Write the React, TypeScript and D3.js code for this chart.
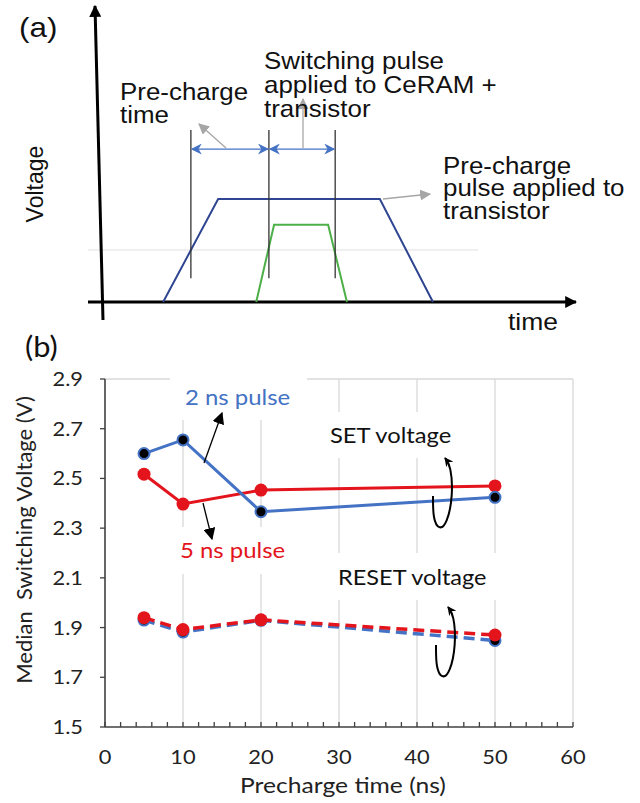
import React from "react";
import * as d3 from "d3";

// ---------- Panel (b) data ----------
const precharge = [5, 10, 20, 50];
const set2ns = [2.6, 2.655, 2.366, 2.424];
const set5ns = [2.517, 2.397, 2.453, 2.47];
const reset2ns = [1.93, 1.882, 1.929, 1.848];
const reset5ns = [1.94, 1.892, 1.931, 1.87];
const xTicks = [0, 10, 20, 30, 40, 50, 60];
const yTicks = [1.5, 1.7, 1.9, 2.1, 2.3, 2.5, 2.7, 2.9];
const gridX = [10, 20, 30, 40, 50];

// ---------- Panel (a) schematic data (abstract units) ----------
const precharge_t = [12.8, 24.5, 58.9, 70.2];
const precharge_v = [0, 10, 10, 0];
const switch_t = [32.6, 36.4, 47.9, 51.9];
const switch_v = [0, 7.5, 7.5, 0];
const markerT = [18.7, 35.3, 49.4];

const BLUE = "#4472c4";
const RED = "#e3141c";
const NAVY = "#2f4591";
const GREEN = "#4caf47";
const GRID = "#d9d9d9";
const fontA = "'Liberation Sans', Arial, sans-serif";
const fontB = "Lato, 'Open Sans', sans-serif";

type STProps = {
  x: number;
  y: number;
  sx?: number;
  size: number;
  family: string;
  fill?: string;
  anchor?: string;
  lines: string[];
  lh?: number;
};
function ST({ x, y, sx = 1.1, size, family, fill = "#111", anchor = "start", lines, lh = 0 }: STProps) {
  return (
    <text
      transform={`translate(${x},${y}) scale(${sx},1)`}
      fontFamily={family}
      fontSize={size}
      fill={fill}
      textAnchor={anchor}
      style={{ whiteSpace: "pre" }}
    >
      {lines.map((l, i) => (
        <tspan key={i} x={0} y={i * lh}>
          {l}
        </tspan>
      ))}
    </text>
  );
}

export default function App() {
  // panel a scales
  const xA = d3.scaleLinear().domain([0, 100]).range([103, 573]);
  const yA = d3.scaleLinear().domain([0, 10]).range([302, 199]);
  const lineA = d3
    .line<[number, number]>()
    .x((d) => xA(d[0]))
    .y((d) => yA(d[1]));

  // panel b scales
  const x = d3.scaleLinear().domain([0, 60]).range([105, 573]);
  const y = d3.scaleLinear().domain([1.5, 2.9]).range([727, 379]);
  const line = d3
    .line<[number, number]>()
    .x((d) => x(d[0]))
    .y((d) => y(d[1]));
  const pts = (vals: number[]) => precharge.map((p, i) => [p, vals[i]] as [number, number]);
  const minor = d3.range(0, 61, 2);

  const loop = d3.line<[number, number]>().curve(d3.curveBasis);

  const loopPath = (cx: number, cy: number) =>
    loop([
      [cx - 10, cy + 2],
      [cx - 10, cy + 25],
      [cx - 4, cy + 36],
      [cx + 4, cy + 30],
      [cx + 10, cy + 2],
      [cx + 8, cy - 28],
      [cx + 2, cy - 36],
    ]);

  return (
    <svg width={640} height={803} style={{ position: "absolute", left: 0, top: 0 }}>
      <defs>
        <marker id="ahBig" viewBox="0 0 10 10" refX="9" refY="5" markerWidth="12" markerHeight="12" orient="auto" markerUnits="userSpaceOnUse">
          <path d="M0,0 L10,5 L0,10 z" fill="#000" />
        </marker>
        <marker id="ahGray" viewBox="0 0 10 10" refX="9" refY="5" markerWidth="11" markerHeight="11" orient="auto" markerUnits="userSpaceOnUse">
          <path d="M0,0 L10,5 L0,10 z" fill="#a6a6a6" />
        </marker>
        <marker id="ahBlue" viewBox="0 0 10 10" refX="9" refY="5" markerWidth="11" markerHeight="11" orient="auto-start-reverse" markerUnits="userSpaceOnUse">
          <path d="M0,0 L10,5 L0,10 L3,5 z" fill={BLUE} />
        </marker>
        <marker id="ahCurve" viewBox="0 0 10 10" refX="9" refY="5" markerWidth="9" markerHeight="9" orient="auto" markerUnits="userSpaceOnUse">
          <path d="M0,0 L10,5 L0,10 L3,5 z" fill="#000" />
        </marker>
      </defs>
      <rect width={640} height={803} fill="#fff" />

      {/* ================= Panel (a) ================= */}
      <ST x={19} y={37} size={28} family={fontA} lines={["(a)"]} sx={1.12} />
      {/* faint reference line */}
      <line x1={88} x2={478} y1={yA(5.05)} y2={yA(5.05)} stroke="#e0e0e0" strokeWidth={1} />
      {/* axes */}
      <line x1={103} y1={320} x2={95} y2={6} stroke="#000" strokeWidth={3} markerEnd="url(#ahBig)" />
      <line x1={88} y1={302} x2={576} y2={302} stroke="#000" strokeWidth={3} markerEnd="url(#ahBig)" />
      <text transform="translate(43,184) rotate(-90)" textAnchor="middle" fontFamily={fontA} fontSize={23} fill="#111">Voltage</text>
      <ST x={508} y={330} size={23} family={fontA} lines={["time"]} sx={1.15} />

      {/* pulses */}
      <path d={lineA(precharge_t.map((t, i) => [t, precharge_v[i]]))!} fill="none" stroke={NAVY} strokeWidth={2} />
      <path d={lineA(switch_t.map((t, i) => [t, switch_v[i]]))!} fill="none" stroke={GREEN} strokeWidth={2} />

      {/* vertical markers */}
      {markerT.map((t) => (
        <line key={t} x1={xA(t)} x2={xA(t)} y1={yA(16.7)} y2={yA(2.3)} stroke="#333" strokeWidth={1.3} />
      ))}
      {/* blue double arrows */}
      <line x1={xA(markerT[0]) + 1} x2={xA(markerT[1]) - 1} y1={yA(14.85)} y2={yA(14.85)} stroke={BLUE} strokeWidth={1.3} markerStart="url(#ahBlue)" markerEnd="url(#ahBlue)" />
      <line x1={xA(markerT[1]) + 1} x2={xA(markerT[2]) - 1} y1={yA(14.85)} y2={yA(14.85)} stroke={BLUE} strokeWidth={1.3} markerStart="url(#ahBlue)" markerEnd="url(#ahBlue)" />

      {/* gray arrows */}
      <line x1={226} y1={148} x2={199} y2={124} stroke="#a6a6a6" strokeWidth={1.3} markerEnd="url(#ahGray)" />
      <line x1={303} y1={148} x2={303} y2={99} stroke="#a6a6a6" strokeWidth={1.3} markerEnd="url(#ahGray)" />
      <line x1={383} y1={199} x2={430} y2={194} stroke="#a6a6a6" strokeWidth={1.3} markerEnd="url(#ahGray)" />

      {/* labels */}
      <ST x={120} y={100} size={24} family={fontA} sx={1.08} lh={23} lines={["Pre-charge", "time"]} />
      <ST x={264} y={69} size={24} family={fontA} sx={1.08} lh={24} lines={["Switching pulse", "applied to CeRAM +", "transistor"]} />
      <ST x={443} y={174} size={24} family={fontA} sx={1.08} lh={22.5} lines={["Pre-charge", "pulse applied to", "transistor"]} />

      {/* ================= Panel (b) ================= */}
      <ST x={25} y={357} size={28} family={fontB} sx={1.1} lines={["(b)"]} />

      {/* gridlines & border */}
      {gridX.map((g) => (
        <line key={g} x1={x(g)} x2={x(g)} y1={y(2.9)} y2={y(1.5)} stroke={GRID} strokeWidth={1.3} />
      ))}
      <line x1={x(0)} x2={x(60)} y1={y(2.9)} y2={y(2.9)} stroke={GRID} strokeWidth={1.3} />
      <line x1={x(60)} x2={x(60)} y1={y(2.9)} y2={y(1.5)} stroke={GRID} strokeWidth={1.3} />

      {/* white boxes behind labels */}
      <rect x={170} y={368} width={137} height={52} fill="#fff" />
      <rect x={165} y={527} width={140} height={47} fill="#fff" />
      <rect x={326} y={412} width={134} height={46} fill="#fff" />
      <rect x={330} y={553} width={168} height={47} fill="#fff" />

      {/* axes */}
      <line x1={x(0)} x2={x(0)} y1={y(2.9)} y2={y(1.5)} stroke="#404040" strokeWidth={1.6} />
      <line x1={x(0)} x2={x(60)} y1={y(1.5)} y2={y(1.5)} stroke="#404040" strokeWidth={1.6} />
      {minor.map((m) => (
        <line key={m} x1={x(m)} x2={x(m)} y1={y(1.5)} y2={y(1.5) - 5} stroke="#404040" strokeWidth={1.3} />
      ))}
      {yTicks.map((t) => (
        <g key={t}>
          <line x1={x(0) - 5} x2={x(0)} y1={y(t)} y2={y(t)} stroke="#404040" strokeWidth={1.3} />
          <ST x={83} y={y(t) + 7} anchor="end" size={19} sx={1.15} family={fontB} fill="#222" lines={[t.toFixed(1)]} />
        </g>
      ))}
      {xTicks.map((t) => (
        <ST key={t} x={x(t)} y={764} anchor="middle" size={19} sx={1.15} family={fontB} fill="#222" lines={[String(t)]} />
      ))}
      <ST x={343} y={793} anchor="middle" size={22} sx={1.12} family={fontB} fill="#222" lines={["Precharge time (ns)"]} />
      <text transform="translate(32,540) rotate(-90)" textAnchor="middle" fontFamily={fontB} fontSize={22} fill="#222" style={{ whiteSpace: "pre" }}>
        {"Median  Switching Voltage (V)"}
      </text>

      {/* RESET lines */}
      <path d={line(pts(reset2ns))!} fill="none" stroke={BLUE} strokeWidth={3.5} strokeDasharray="11,6" />
      {precharge.map((p, i) => (
        <circle key={"rb" + p} cx={x(p)} cy={y(reset2ns[i])} r={5.5} fill="#000" stroke={BLUE} strokeWidth={2} />
      ))}
      <path d={line(pts(reset5ns))!} fill="none" stroke={RED} strokeWidth={3.5} strokeDasharray="11,6" />
      {precharge.map((p, i) => (
        <circle key={"rr" + p} cx={x(p)} cy={y(reset5ns[i])} r={6.5} fill={RED} />
      ))}

      {/* SET lines */}
      <path d={line(pts(set5ns))!} fill="none" stroke={RED} strokeWidth={3} />
      {precharge.map((p, i) => (
        <circle key={"sr" + p} cx={x(p)} cy={y(set5ns[i])} r={6.5} fill={RED} />
      ))}
      <path d={line(pts(set2ns))!} fill="none" stroke={BLUE} strokeWidth={3} />
      {precharge.map((p, i) => (
        <circle key={"sb" + p} cx={x(p)} cy={y(set2ns[i])} r={5.5} fill="#000" stroke={BLUE} strokeWidth={2} />
      ))}

      {/* annotations */}
      <ST x={185} y={405} size={21} sx={1.14} family={fontB} fill={BLUE} lines={["2 ns pulse"]} />
      <ST x={180} y={558} size={21} sx={1.14} family={fontB} fill={RED} lines={["5 ns pulse"]} />
      <ST x={330} y={443} size={21} sx={1.13} family={fontB} fill="#111" lines={["SET voltage"]} />
      <ST x={338} y={585} size={21} sx={1.12} family={fontB} fill="#111" lines={["RESET voltage"]} />

      <line x1={204} y1={463} x2={222} y2={413} stroke="#000" strokeWidth={1.3} markerEnd="url(#ahBig)" />
      <line x1={203} y1={503} x2={212} y2={539} stroke="#000" strokeWidth={1.3} markerEnd="url(#ahBig)" />

      <path d={loopPath(443, 494)!} fill="none" stroke="#000" strokeWidth={2} markerEnd="url(#ahCurve)" />
      <path d={loopPath(446, 643)!} fill="none" stroke="#000" strokeWidth={2} markerEnd="url(#ahCurve)" />
    </svg>
  );
}
